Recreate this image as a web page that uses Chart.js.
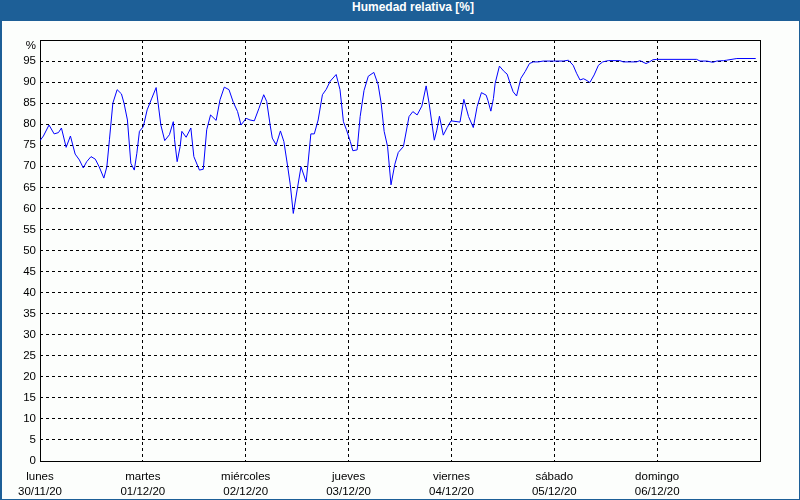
<!DOCTYPE html>
<html>
<head>
<meta charset="utf-8">
<script src="https://cdn.jsdelivr.net/npm/chart.js@4/dist/chart.umd.min.js"></script>
<style>
  html, body { margin: 0; padding: 0; width: 800px; height: 500px; overflow: hidden; background: #1d5f97; }
  #frame { position: absolute; left: 0; top: 0; width: 800px; height: 500px; background: #1d5f97; }
  #title { position: absolute; left: 0; top: 0; width: 826px; height: 21px; line-height: 21px; text-align: center;
           color: #ffffff; font: bold 12px "Liberation Sans", Arial, sans-serif; }
  #inner { position: absolute; left: 2px; top: 21px; width: 797px; height: 478px; background: #fcfefc; }
  #c { position: absolute; left: 0; top: 0; }
</style>
</head>
<body>
<div id="frame">
  <div id="title">Humedad relativa [%]</div>
  <div id="inner"></div>
</div>
<canvas id="c" width="800" height="500"></canvas>
<script>
// Time since Monday 30/11/20 00:00, in hours
const hours = [
  0, 0.8, 2.1, 3.3, 4.3, 5.0, 6.1, 7.1, 8.2, 9.2, 10.1, 10.9, 11.9, 12.9, 13.8, 14.9, 15.6, 16.2, 17.0, 18.0,
  19.0, 19.6, 20.4, 21.2, 22.0, 22.6, 23.2, 24.1, 25.0, 26.1, 27.1, 28.2, 29.1, 30.2, 31.1, 31.4, 32.0, 32.7, 33.1, 34.1,
  35.2, 35.9, 37.2, 38.1, 38.9, 39.8, 41.1, 42.0, 43.0, 44.1, 45.1, 46.1, 46.9, 48.1, 49.0, 50.0, 51.1, 52.2, 52.9, 53.7,
  54.2, 55.1, 56.1, 56.9, 57.8, 58.4, 59.1, 60.0, 60.9, 62.1, 62.5, 63.2, 64.0, 64.9, 65.9, 66.8, 67.7, 69.1, 70.0, 70.8,
  71.5, 72.4, 73.0, 74.0, 74.7, 75.6, 76.6, 77.9, 78.9, 79.6, 80.3, 81.1, 81.9, 82.8, 83.6, 84.8, 86.1, 87.0, 88.0, 89.1,
  90.1, 90.8, 91.5, 92.0, 92.6, 93.2, 94.1, 95.0, 95.9, 98.0, 98.9, 100.0, 101.1, 102.0, 103.0, 104.1, 104.5, 105.2, 105.8, 106.2,
  107.2, 108.3, 109.0, 109.7, 110.4, 111.2, 112.2, 113.2, 114.2, 115.1, 116.3, 117.4, 119.8, 122.1, 123.3, 124.4, 125.2, 126.0, 126.8, 127.4,
  128.3, 129.3, 130.3, 131.3, 132.6, 135.3, 136.1, 139.2, 140.0, 140.6, 141.4, 142.2, 143.0, 143.9, 147.0, 153.2, 154.0, 155.6, 157.0, 157.9,
  159.5, 160.2, 162.6, 167.0
];
const humidity = [
  76.1, 77.2, 79.8, 77.7, 78.0, 79.1, 74.5, 77.2, 72.9, 71.5, 69.6, 71.1, 72.3, 71.7, 69.9, 67.2, 69.9, 76.3, 85.0, 88.2,
  87.2, 85.0, 81.0, 70.7, 69.1, 73.1, 78.3, 79.4, 83.4, 86.2, 88.7, 79.8, 76.1, 77.5, 80.6, 76.3, 71.1, 74.7, 78.3, 76.9,
  79.1, 72.3, 69.1, 69.3, 78.7, 82.2, 80.9, 85.8, 88.8, 88.2, 85.2, 83.0, 79.8, 81.4, 81.0, 80.8, 83.8, 87.0, 85.4, 79.8,
  76.7, 75.1, 78.4, 75.9, 69.9, 65.6, 58.8, 64.4, 69.9, 66.3, 70.3, 77.7, 77.7, 81.0, 87.0, 88.3, 90.2, 91.8, 88.2, 80.6,
  78.7, 75.9, 73.7, 73.9, 81.8, 88.0, 91.4, 92.3, 89.4, 85.0, 78.3, 74.7, 65.6, 70.5, 73.3, 74.7, 81.8, 83.0, 82.2, 84.3,
  89.1, 84.9, 79.8, 76.2, 78.6, 81.9, 77.4, 79.2, 80.8, 80.5, 85.9, 81.8, 79.2, 84.2, 87.5, 86.9, 85.7, 83.1, 86.1, 89.7,
  93.8, 92.5, 91.9, 89.7, 87.7, 86.7, 90.9, 92.5, 94.4, 94.8, 94.8, 95.0, 95.0, 95.0, 95.2, 94.0, 92.1, 90.5, 90.8, 90.5,
  89.9, 91.7, 94.0, 94.8, 95.1, 95.1, 94.8, 94.8, 95.1, 94.8, 94.4, 94.8, 95.3, 95.4, 95.4, 95.4, 95.0, 95.0, 94.7, 95.0,
  95.1, 95.2, 95.6, 95.6
];
const dayNames = ['lunes', 'martes', 'miércoles', 'jueves', 'viernes', 'sábado', 'domingo'];
const dayDates = ['30/11/20', '01/12/20', '02/12/20', '03/12/20', '04/12/20', '05/12/20', '06/12/20'];
const yUnitLabel = '%';

const FONT = '"Liberation Sans", Arial, sans-serif';

const framePlugin = {
  id: 'framePlugin',
  beforeDatasetsDraw(chart) {
    const {ctx, chartArea: a} = chart;
    ctx.save();
    ctx.strokeStyle = '#000';
    ctx.lineWidth = 1;
    ctx.setLineDash([]);
    ctx.strokeRect(Math.round(a.left) + 0.5, Math.round(a.top) + 0.5,
                   Math.round(a.right - a.left), Math.round(a.bottom - a.top));
    ctx.restore();
  },
  afterDraw(chart) {
    const {ctx, chartArea: a} = chart;
    const ys = chart.scales.y;
    ctx.save();
    ctx.font = '11.5px ' + FONT;
    ctx.fillStyle = '#000';
    ctx.textAlign = 'right';
    ctx.textBaseline = 'middle';
    ctx.fillText(yUnitLabel, a.left - 4, ys.getPixelForValue(100) + 6);
    ctx.restore();
  }
};

const gridColor = (edgeA, edgeB) => (c) =>
  (c.tick && (c.tick.value === edgeA || c.tick.value === edgeB)) ? 'rgba(0,0,0,0)' : '#000';

new Chart(document.getElementById('c'), {
  type: 'line',
  data: {
    datasets: [{
      data: hours.map((h, i) => ({x: h, y: humidity[i]})),
      borderColor: '#0000ff',
      borderWidth: 1,
      pointRadius: 0,
      tension: 0,
      fill: false
    }]
  },
  options: {
    responsive: false,
    animation: false,
    devicePixelRatio: 1,
    layout: { padding: { left: 0, top: 40, right: 40, bottom: 0 } },
    plugins: { legend: { display: false }, title: { display: false }, tooltip: { enabled: false } },
    scales: {
      x: {
        type: 'linear',
        min: 0, max: 168,
        ticks: {
          stepSize: 24, autoSkip: false, maxRotation: 0, minRotation: 0,
          padding: 8,
          color: '#000',
          font: { family: FONT, size: 11.5, lineHeight: 1.3 },
          callback: (v) => {
            const i = v / 24;
            if (Number.isInteger(i) && i >= 0 && i < 7) return [dayNames[i], dayDates[i]];
            return '';
          }
        },
        grid: { color: gridColor(0, 168), lineWidth: 1, drawTicks: false },
        border: { display: false, dash: [3, 3] },
        afterFit: (s) => { s.height = 39; s.paddingLeft = 0; s.paddingRight = 0; }
      },
      y: {
        min: 0, max: 100,
        ticks: {
          stepSize: 5, padding: 4, color: '#000',
          font: { family: FONT, size: 11.5 },
          callback: (v) => (v === 100 ? '' : String(v))
        },
        grid: { color: gridColor(0, 100), lineWidth: 1, drawTicks: false },
        border: { display: false, dash: [3, 3] },
        afterFit: (s) => { s.width = 40; s.paddingTop = 0; s.paddingBottom = 0; }
      }
    }
  },
  plugins: [framePlugin]
});
</script>
</body>
</html>
